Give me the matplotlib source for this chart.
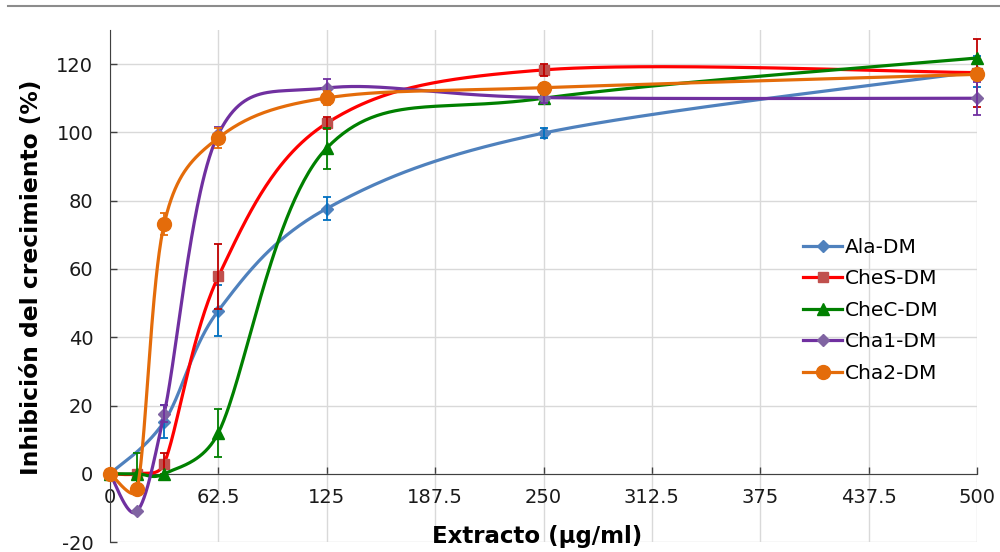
import numpy as np
import matplotlib
matplotlib.use("Agg")
import matplotlib.pyplot as plt
from matplotlib.lines import Line2D

plt.rcParams['font.family'] = ['DejaVu Sans']
plt.rcParams['axes.unicode_minus'] = False

# Datos
conc = [0, 15.625, 31.25, 62.5, 125, 250, 500]
x_ticks = [0, 62.5, 125, 187.5, 250, 312.5, 375, 437.5, 500]
x_labels = ['0', '62.5', '125', '187.5', '250', '312.5', '375', '437.5', '500']
y_ticks = [-20, 0, 20, 40, 60, 80, 100, 120]

# None = sin dato
ala = [0, None, 15.3, 47.8, 77.7, 99.8, 117.8]
ala_err = [0, 0, 4.8, 7.5, 3.5, 1.5, 4.5]
ches = [0, 0, 3, 57.8, 102.7, 118.3, 117.5]
ches_err = [0, 0, 3, 9.5, 1.7, 1.8, 10]
chec = [0, 0, 0, 12, 95.4, 110, 121.8]
chec_err = [0, 6, 0, 7, 6, 1, 0]
cha1 = [0, -11, 17.6, 99.5, 113, 110.2, 110]
cha1_err = [0, 0, 2.5, 2, 2.6, 1.5, 4.8]
cha2 = [0, -4.5, 73.2, 98.4, 110.1, 113.1, 117]
cha2_err = [0, 0, 3.3, 3, 2, 1.5, 1]

series = [
    # nombre, valores, errores, color linea, marcador, color marcador, color error, tamaño
    ('Ala-DM', ala, ala_err, '#4F81BD', 'D', '#4F81BD', '#0070C0', 6.5),
    ('CheS-DM', ches, ches_err, '#FF0000', 's', '#C0504D', '#C00000', 6.5),
    ('CheC-DM', chec, chec_err, '#008000', '^', '#008000', '#008000', 9),
    ('Cha1-DM', cha1, cha1_err, '#7030A0', 'D', '#8064A2', '#7030A0', 6.5),
    ('Cha2-DM', cha2, cha2_err, '#E46C0A', 'o', '#E46C0A', '#E46C0A', 10),
]


def smooth(xs, ys, kx, ky, n=60):
    # curva suavizada tipo Excel (Bezier 1/6), calculada en pixeles
    p = np.column_stack([np.asarray(xs) * kx, np.asarray(ys) * ky]).astype(float)
    out = []
    for i in range(len(p) - 1):
        p0 = p[max(i - 1, 0)]
        p1 = p[i]
        p2 = p[i + 1]
        p3 = p[min(i + 2, len(p) - 1)]
        d12 = np.hypot(*(p2 - p1))
        a1 = (p2 - p0) / 6
        a2 = (p3 - p1) / 6
        # limitar el brazo de control a la mitad del tramo
        for a in (a1, a2):
            la = np.hypot(*a)
            if la > d12 / 2:
                a *= (d12 / 2) / la
        c1 = p1 + a1
        c2 = p2 - a2
        t = np.linspace(0, 1, n, endpoint=False)[:, None]
        seg = ((1 - t) ** 3) * p1 + 3 * ((1 - t) ** 2) * t * c1 \
            + 3 * (1 - t) * t ** 2 * c2 + t ** 3 * p2
        out.append(seg)
    out.append(p[-1:])
    out = np.vstack(out)
    marks = [i * n for i in range(len(p))]
    return out[:, 0] / kx, out[:, 1] / ky, marks


fig = plt.figure(figsize=(10, 5.52), dpi=100)
ax = fig.add_axes([0.110, 0.018, 0.867, 0.9277])
ax.set_xlim(0, 500)
ax.set_ylim(-20, 130)
kx = 867 / 500
ky = 0.9277 * 552 / 150

for name, vals, errs, lc, mk, mc, ec, ms in series:
    xv = [c for c, v in zip(conc, vals) if v is not None]
    yv = [v for v in vals if v is not None]
    sx, sy, marks = smooth(xv, yv, kx, ky)
    ax.plot(sx, sy, color=lc, lw=2.3, marker=mk, markevery=marks,
            ms=ms, mfc=mc, mec=mc, label=name, clip_on=False, zorder=3)
    xe = [c for c, v, e in zip(conc, vals, errs) if e > 0 and v is not None]
    ye = [v for v, e in zip(vals, errs) if e > 0 and v is not None]
    ee = [e for v, e in zip(vals, errs) if e > 0 and v is not None]
    ax.errorbar(xe, ye, yerr=ee, fmt='none', ecolor=ec, elinewidth=1.3,
                capsize=2.6, capthick=1.3, clip_on=False, zorder=3)

ax.set_xticks(x_ticks)
ax.set_xticklabels(x_labels)
ax.set_yticks(y_ticks)
ax.grid(True, color='#D9D9D9', lw=1)
ax.set_axisbelow(True)

for s in ['top', 'right']:
    ax.spines[s].set_visible(False)
ax.spines['bottom'].set_position(('data', 0))
ax.spines['bottom'].set_color('#404040')
ax.spines['left'].set_color('#404040')
ax.tick_params(direction='in', length=5, width=1, color='#404040',
               labelsize=14, labelcolor='#1a1a1a')
ax.tick_params(axis='y', pad=12)
ax.tick_params(axis='x', pad=10)

fig.text(0.032, 1 - 277 / 552, 'Inhibición del crecimiento (%)', rotation=90,
         ha='center', va='center', fontsize=16.8, fontweight='bold')
fig.text(0.537, 1 - 537 / 552, 'Extracto (µg/ml)', ha='center', va='center',
         fontsize=16.5, fontweight='bold')

fig.add_artist(Line2D([0.008, 1.0], [0.989, 0.989], color='#8c8c8c', lw=1.5))

ax.legend(loc='upper left', bbox_to_anchor=(0.803, 1 - 238 / 552),
          bbox_transform=fig.transFigure, frameon=False, fontsize=14.5,
          handlelength=1.95, handletextpad=0.15, labelspacing=0.62,
          borderpad=0, borderaxespad=0, numpoints=1)

fig.savefig('out.png', dpi=100)
